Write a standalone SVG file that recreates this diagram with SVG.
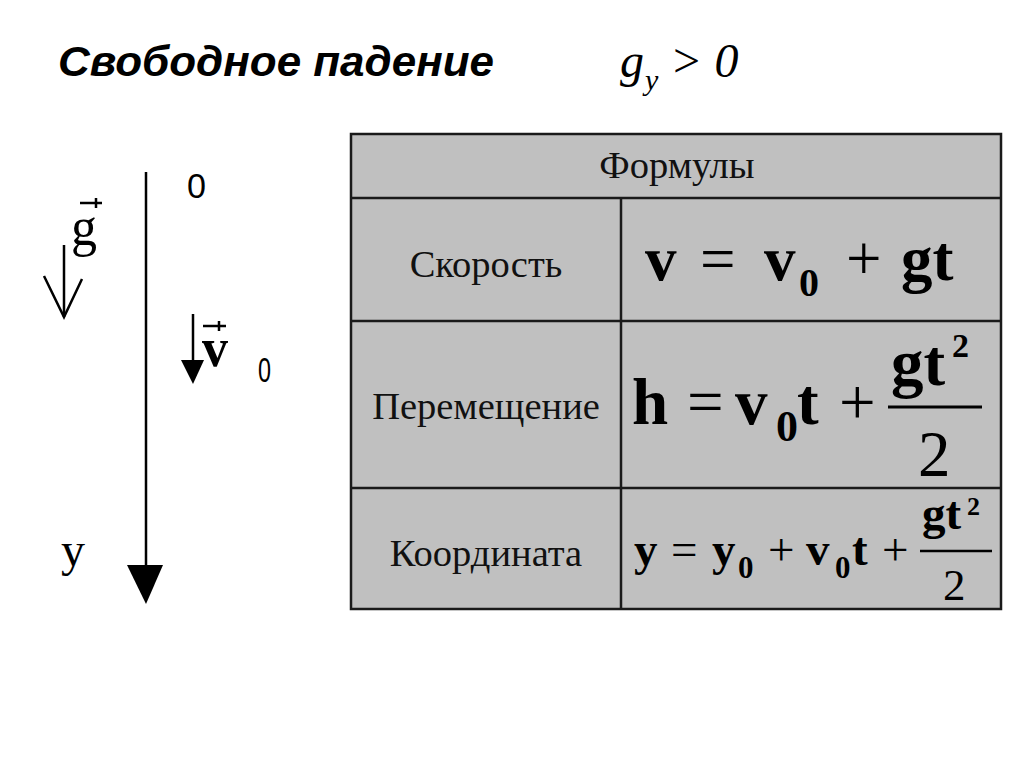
<svg xmlns="http://www.w3.org/2000/svg" width="1024" height="767" viewBox="0 0 1024 767">
<style>
.serif{font-family:"Liberation Serif","Times New Roman",serif;fill:#000}
.b{font-weight:bold}
.lbl{font-family:"Liberation Serif","Times New Roman",serif;font-size:38.5px;fill:#111;text-anchor:middle}
.pix{font-family:"Liberation Sans",Arial,sans-serif;fill:#000}
.grid{stroke:#1a1a1a;stroke-width:2.5;fill:none}
.ln{stroke:#000;stroke-width:2.5;fill:none}
</style>
<rect width="1024" height="767" fill="#fff"/>

<g id="title">
<text x="58" y="76" font-family="'Liberation Sans',Arial,sans-serif" font-size="43" font-weight="bold" font-style="italic" textLength="436" lengthAdjust="spacingAndGlyphs">Свободное падение</text>
<text class="serif" font-style="italic" x="620" y="77" font-size="48">g</text>
<text class="serif" font-style="italic" x="645" y="90" font-size="30">y</text>
<text class="serif" font-style="italic" x="670" y="77" font-size="48">&gt; 0</text>
</g>

<g id="axis">
<line class="ln" x1="146" y1="172" x2="146" y2="570"/>
<polygon points="127,565 163,565 146,604" fill="#000"/>
<text class="pix" x="187" y="198" font-size="35" textLength="19" lengthAdjust="spacingAndGlyphs">0</text>
<text class="serif" x="61" y="566" font-size="48">y</text>
</g>

<g id="g-vector">
<line class="ln" x1="64" y1="245" x2="64" y2="317"/>
<polyline class="ln" points="44,276 64,317 82,279"/>
<text class="serif" x="71" y="245" font-size="54" textLength="26" lengthAdjust="spacingAndGlyphs">g</text>
<line class="ln" x1="80" y1="203" x2="102" y2="203"/>
<line class="ln" x1="96" y1="198" x2="96" y2="208"/>
</g>

<g id="v0-vector">
<line class="ln" x1="193" y1="314" x2="193" y2="365"/>
<polygon points="181,360 204,360 193,384" fill="#000"/>
<text class="serif b" x="202" y="366" font-size="54" textLength="26" lengthAdjust="spacingAndGlyphs">v</text>
<line class="ln" x1="203" y1="326" x2="226" y2="326"/>
<line class="ln" x1="219" y1="321" x2="219" y2="331"/>
<text class="pix" x="258" y="382" font-size="35" textLength="13" lengthAdjust="spacingAndGlyphs">0</text>
</g>

<g id="table">
<rect x="351" y="134" width="650" height="475" fill="#c0c0c0"/>
<rect class="grid" x="351" y="134" width="650" height="475"/>
<line class="grid" x1="351" y1="198" x2="1001" y2="198"/>
<line class="grid" x1="351" y1="321" x2="1001" y2="321"/>
<line class="grid" x1="351" y1="488" x2="1001" y2="488"/>
<line class="grid" x1="621" y1="198" x2="621" y2="609"/>
</g>

<g id="header"><text class="lbl" x="677" y="178">Формулы</text></g>

<g id="row-velocity">
<text class="lbl" x="486" y="277">Скорость</text>
<text class="serif" y="280" font-size="63"><tspan class="b" x="645">v</tspan><tspan x="700">=</tspan><tspan class="b" x="764">v</tspan><tspan class="b" x="799" y="296" font-size="40">0</tspan><tspan x="846" y="280">+</tspan><tspan class="b" x="901">gt</tspan></text>
</g>

<g id="row-displacement">
<text class="lbl" x="486" y="419">Перемещение</text>
<text class="serif" y="424" font-size="65"><tspan class="b" x="632">h</tspan><tspan x="687">=</tspan><tspan class="b" x="735">v</tspan><tspan class="b" x="776" y="441" font-size="44">0</tspan><tspan class="b" x="797" y="424">t</tspan><tspan x="839">+</tspan></text>
<text class="serif b" x="891" y="385" font-size="65">gt</text>
<text class="serif b" x="952" y="357" font-size="34">2</text>
<line x1="888" y1="407" x2="982" y2="407" stroke="#000" stroke-width="3"/>
<text class="serif" x="918" y="476" font-size="65">2</text>
</g>

<g id="row-coordinate">
<text class="lbl" x="486" y="566">Координата</text>
<text class="serif" y="565" font-size="47"><tspan class="b" x="634">y</tspan><tspan x="671">=</tspan><tspan class="b" x="712">y</tspan><tspan class="b" x="738" y="578" font-size="31">0</tspan><tspan x="768" y="565">+</tspan><tspan class="b" x="806">v</tspan><tspan class="b" x="835" y="578" font-size="31">0</tspan><tspan class="b" x="852" y="565">t</tspan><tspan x="882">+</tspan></text>
<text class="serif b" x="922" y="529" font-size="47">gt</text>
<text class="serif b" x="967" y="515" font-size="26">2</text>
<line x1="920" y1="551" x2="992" y2="551" stroke="#000" stroke-width="2.5"/>
<text class="serif" x="943" y="600" font-size="45">2</text>
</g>
</svg>
